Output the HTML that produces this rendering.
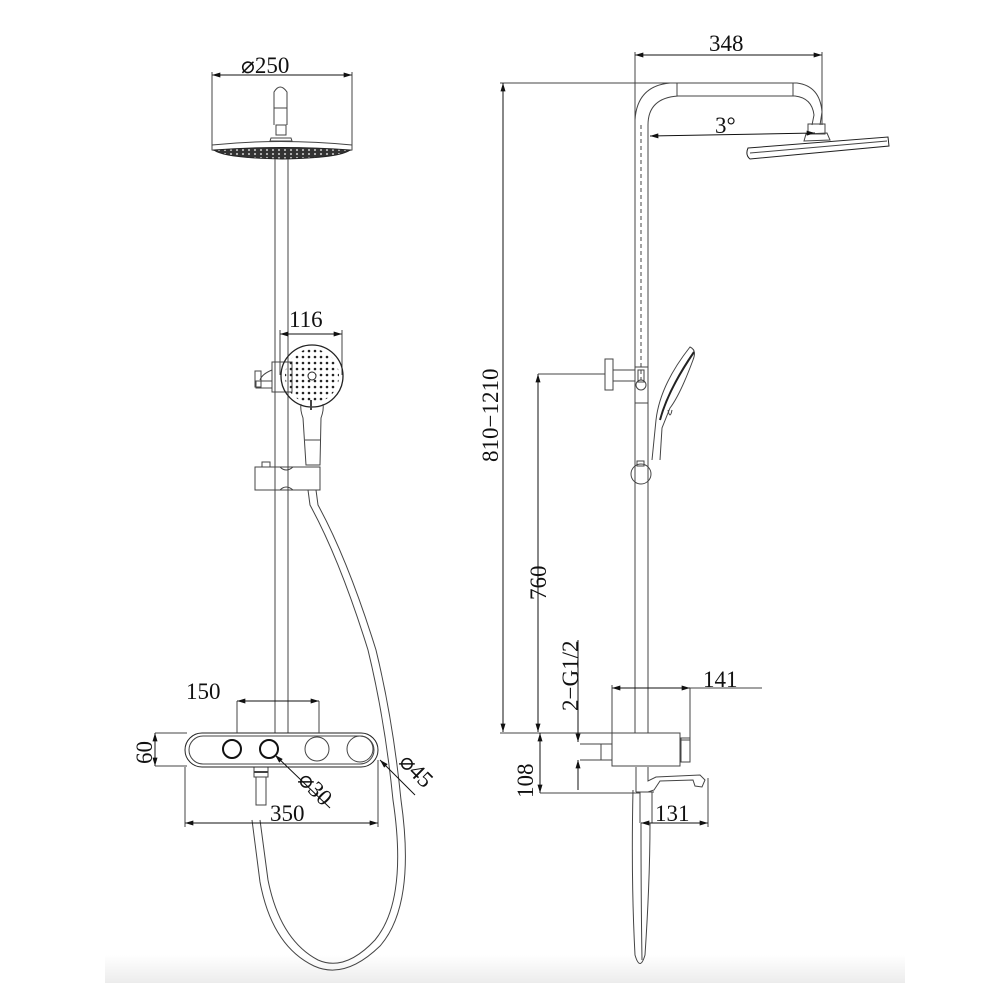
<!DOCTYPE html>
<html><head><meta charset="utf-8"><style>
html,body{margin:0;padding:0;background:#fff}
svg{display:block}
text{font-family:"Liberation Serif",serif;font-size:23px;fill:#111}
</style></head><body>
<svg width="1000" height="1000" viewBox="0 0 1000 1000" xmlns="http://www.w3.org/2000/svg">
<defs>
<linearGradient id="bg" x1="0" y1="0" x2="0" y2="1"><stop offset="0" stop-color="#fff"/><stop offset="1" stop-color="#ececec"/></linearGradient>
<marker id="a" viewBox="0 0 10 6" refX="10" refY="3" markerWidth="14" markerHeight="5" orient="auto-start-reverse" markerUnits="userSpaceOnUse"><path d="M0,0L10,3L0,6z" fill="#111"/></marker>
<pattern id="dots" width="6" height="4" patternUnits="userSpaceOnUse"><rect width="6" height="4" fill="#333"/><circle cx="3" cy="2" r="1.1" fill="#bbb"/></pattern>
<pattern id="hd" width="6" height="6" patternUnits="userSpaceOnUse"><circle cx="3" cy="3" r="1.3" fill="#222"/></pattern>
</defs>
<rect x="105" y="955" width="800" height="28" fill="url(#bg)"/>
<g fill="none" stroke="#444" stroke-width="1">
<line x1="212" y1="75" x2="352" y2="75" marker-start="url(#a)" marker-end="url(#a)" stroke="#111"/>
<line x1="212" y1="72" x2="212" y2="150"/><line x1="352" y1="72" x2="352" y2="150"/>
<path d="M274,125 L274,92 Q280,82 287,92 L287,125"/>
<line x1="274" y1="108" x2="287" y2="108"/>
<rect x="276" y="125" width="10" height="10"/>
<path d="M271,138 L291,138 L292,141 L270,141z"/>
<path d="M212,145 Q280,138 352,145 L352,150 Q280,162 212,150z"/>
<path d="M214,150 Q282,145 350,150 Q340,158 282,159 Q224,158 214,150z" fill="url(#dots)" stroke="#222"/>
<line x1="275" y1="159" x2="275" y2="733"/><line x1="288" y1="159" x2="288" y2="733"/>
<rect x="272" y="362" width="20" height="30"/>
<path d="M272,370 Q262,374 260,380"/>
<rect x="255" y="371" width="6" height="16"/><rect x="256" y="381" width="16" height="7"/>
<line x1="280" y1="334" x2="342" y2="334" marker-start="url(#a)" marker-end="url(#a)" stroke="#111"/>
<line x1="280" y1="330" x2="280" y2="375"/><line x1="342" y1="330" x2="342" y2="375"/>
<circle cx="312" cy="376" r="31" stroke="#222" stroke-width="1.3"/>
<circle cx="312" cy="376" r="27" fill="url(#hd)" stroke="none"/>
<circle cx="312" cy="376" r="4" fill="#fff" stroke="#222"/>
<path d="M301,404 Q300,410 303,418 L306,465 L320,465 L321,418 Q324,410 323,404"/>
<line x1="305" y1="440" x2="321" y2="440"/>
<line x1="311" y1="400" x2="311" y2="410" stroke-width="2"/>
<path d="M255,467 L320,467 L320,490 L255,490z"/>
<path d="M280,467 Q286,473 293,467"/><path d="M280,490 Q286,484 293,490"/>
<rect x="262" y="462" width="8" height="5"/>
<path d="M308,490 L310,505 Q340,560 368,650 Q385,720 393,800 Q408,900 375,940 Q345,972 318,960 Q280,940 268,880 L260,820"/>
<path d="M316,490 L318,505 Q348,560 376,650 Q393,720 401,800 Q416,905 380,946 Q345,980 314,966 Q272,946 260,882 L252,820"/>
<rect x="254" y="767" width="14" height="10"/><rect x="256" y="777" width="10" height="28"/>
<line x1="254" y1="772" x2="268" y2="772" stroke-width="2"/>
<rect x="185" y="733" width="193" height="34" rx="17" stroke="#222"/>
<rect x="189" y="736" width="185" height="28" rx="14"/>
<circle cx="232" cy="749" r="9" stroke="#111" stroke-width="2"/>
<circle cx="269" cy="749" r="9" stroke="#111" stroke-width="2"/>
<circle cx="317" cy="749" r="12"/><circle cx="360" cy="749" r="13"/>
<line x1="237" y1="701" x2="319" y2="701" marker-start="url(#a)" marker-end="url(#a)" stroke="#111"/>
<line x1="237" y1="701" x2="237" y2="733"/><line x1="319" y1="701" x2="319" y2="733"/>
<line x1="155" y1="733" x2="155" y2="766" marker-start="url(#a)" marker-end="url(#a)" stroke="#111"/>
<line x1="155" y1="733" x2="187" y2="733"/><line x1="155" y1="766" x2="187" y2="766"/>
<line x1="185" y1="823" x2="378" y2="823" marker-start="url(#a)" marker-end="url(#a)" stroke="#111"/>
<line x1="185" y1="767" x2="185" y2="827"/><line x1="378" y1="760" x2="378" y2="827"/>
<line x1="330" y1="808" x2="275" y2="755" marker-end="url(#a)" stroke="#111"/>
<line x1="415" y1="795" x2="380" y2="760" marker-end="url(#a)" stroke="#111"/>

<line x1="635" y1="55" x2="822" y2="55" marker-start="url(#a)" marker-end="url(#a)" stroke="#111"/>
<line x1="635" y1="52" x2="635" y2="130"/><line x1="822" y1="52" x2="822" y2="125"/>
<line x1="500" y1="83" x2="670" y2="83"/>
<path d="M635,125 L635,120 Q637,86 670,83 L797,83 Q820,86 822,112 L820,125"/>
<path d="M648,125 Q648,98 678,96 L795,96 Q812,98 814,115 L812,125"/>
<line x1="677" y1="83" x2="677" y2="96"/><line x1="793" y1="83" x2="793" y2="96"/>
<rect x="808" y="124" width="17" height="10"/>
<path d="M806,134 L827,133 L830,140 L804,141z"/>
<path d="M748,148 L888,137 L889,146 L750,159 Q745,155 748,148z" stroke="#222"/>
<line x1="750" y1="153" x2="887" y2="141"/>
<line x1="650" y1="136" x2="815" y2="133" marker-start="url(#a)" marker-end="url(#a)" stroke="#111"/>
<line x1="635" y1="125" x2="635" y2="733"/><line x1="648" y1="125" x2="648" y2="733"/>
<line x1="641" y1="125" x2="641" y2="380" stroke-dasharray="4,3"/>
<line x1="503" y1="83" x2="503" y2="732" marker-start="url(#a)" marker-end="url(#a)" stroke="#111"/>
<line x1="500" y1="733" x2="612" y2="733"/>
<line x1="538" y1="374" x2="538" y2="732" marker-start="url(#a)" marker-end="url(#a)" stroke="#111"/>
<line x1="538" y1="374" x2="605" y2="374"/>
<rect x="605" y="359" width="8" height="31"/>
<rect x="613" y="370" width="22" height="11"/>
<rect x="635" y="367" width="13" height="36"/>
<rect x="638" y="370" width="6" height="12"/><circle cx="641" cy="385" r="5"/>
<path d="M652,460 L656,420 Q660,385 690,347 Q697,350 693,360 Q680,395 670,408 L662,428 L660,460"/>
<path d="M660,420 Q668,390 694,352" stroke="#222" stroke-width="2"/>
<path d="M668,410 Q670,420 672,410"/>
<circle cx="641" cy="474" r="10"/><rect x="637" y="461" width="7" height="5"/>
<rect x="612" y="733" width="68" height="33"/>
<rect x="681" y="738" width="9" height="24"/><line x1="681" y1="740" x2="690" y2="740"/>
<rect x="601" y="744" width="11" height="16"/><line x1="580" y1="744" x2="601" y2="744"/><line x1="580" y1="760" x2="601" y2="760"/>
<line x1="612" y1="688" x2="690" y2="688" marker-start="url(#a)" marker-end="url(#a)" stroke="#111"/>
<line x1="612" y1="685" x2="612" y2="733"/><line x1="690" y1="688" x2="690" y2="738"/>
<line x1="690" y1="688" x2="762" y2="688"/>
<line x1="578" y1="640" x2="578" y2="742" marker-end="url(#a)" stroke="#111"/>
<line x1="578" y1="790" x2="578" y2="760" marker-end="url(#a)" stroke="#111"/>
<path d="M636,767 L636,792 M648,767 L648,781 L656,777 L700,775 L705,780 L702,787 L695,786 L693,780 L660,781 L654,790 L648,792"/>
<line x1="636" y1="792" x2="654" y2="792"/>
<line x1="640" y1="792" x2="640" y2="823"/><line x1="652" y1="792" x2="652" y2="823"/>
<line x1="540" y1="733" x2="540" y2="793" marker-start="url(#a)" marker-end="url(#a)" stroke="#111"/>
<line x1="540" y1="793" x2="640" y2="793"/>
<line x1="641" y1="823" x2="708" y2="823" marker-start="url(#a)" marker-end="url(#a)" stroke="#111"/>
<line x1="708" y1="778" x2="708" y2="827"/>
<path d="M633,790 Q631,880 635,955 Q640,972 645,955 Q650,880 650,823"/>
<path d="M641,823 Q641,900 642,960"/>
</g>
<text x="241" y="73">⌀250</text>
<text x="289" y="327">116</text>
<text x="186" y="699">150</text>
<text transform="translate(152,764) rotate(-90)">60</text>
<text x="270" y="821">350</text>
<text transform="translate(297,781) rotate(45)">⌀30</text>
<text transform="translate(398,763) rotate(45)">⌀45</text>
<text x="709" y="51">348</text>
<text x="715" y="133">3°</text>
<text transform="translate(498,462) rotate(-90)">810−1210</text>
<text transform="translate(546,600) rotate(-90)">760</text>
<text transform="translate(578,711) rotate(-90)">2−G1/2</text>
<text x="703" y="687">141</text>
<text transform="translate(533,798) rotate(-90)">108</text>
<text x="655" y="821">131</text>
</svg>
</body></html>
